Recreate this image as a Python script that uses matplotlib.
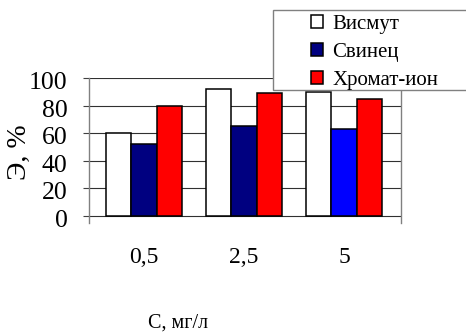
import matplotlib
matplotlib.use("Agg")
import matplotlib.pyplot as plt
from matplotlib.patches import Rectangle
from matplotlib.transforms import ScaledTranslation
import numpy as np

categories = ["0,5", "2,5", "5"]
series_names = ["Висмут", "Свинец", "Хромат-ион"]
bismuth = [60, 92, 90]
lead = [52, 65, 63]
chromate = [80, 89, 85]
yticks = [0, 20, 40, 60, 80, 100]

plt.rcParams['font.family'] = ['Liberation Serif', 'DejaVu Serif']

fig = plt.figure(figsize=(4.66, 3.32), dpi=100)
ax = fig.add_axes([89/466, 1-223/332, (401-89)/466, (223-78)/332])

x = np.arange(len(categories))
w = 0.255
lead_colors = ['#000080', '#000080', '#0000FF']
b1 = ax.bar(x - w, bismuth, w, color='white', edgecolor='black', linewidth=1.1, zorder=3, label=series_names[0])
b2 = ax.bar(x, lead, w, color=lead_colors, edgecolor='black', linewidth=1.1, zorder=3, label=series_names[1])
b3 = ax.bar(x + w, chromate, w, color='#FF0000', edgecolor='black', linewidth=1.1, zorder=3, label=series_names[2])

ax.set_xlim(-0.55, 2.57)
ax.set_ylim(-5, 100)
ax.set_yticks(yticks)
ax.set_yticklabels([str(v) for v in yticks], fontsize=18.5)
ax.set_xticks(x)
ax.set_xticklabels(categories, fontsize=17)
ax.tick_params(axis='x', length=0, pad=17)
ax.tick_params(axis='y', length=4.3, width=0.8, color='#404040', pad=11)
ax.grid(axis='y', color='#303030', linewidth=0.8, zorder=0)
for s in ['top', 'bottom']:
    ax.spines[s].set_visible(False)
for s in ['left', 'right']:
    ax.spines[s].set_color('#808080')
    ax.spines[s].set_linewidth(1.0)

shift = ScaledTranslation(0, -2.5/100, fig.dpi_scale_trans)
for lbl in ax.get_yticklabels():
    lbl.set_transform(lbl.get_transform() + shift)

fig.text(19/466, 1-152/332, "Э, %", rotation=90, fontsize=20, ha='center', va='center')
fig.text(178/466, 1-323/332, "С, мг/л", fontsize=14.5, ha='center', va='center')

rect = Rectangle((273/466, 1-90/332), 200/466, 80/332, transform=fig.transFigure,
                 facecolor='white', edgecolor='#808080', linewidth=1.0, zorder=5)
fig.patches.append(rect)

leg = fig.legend(handles=[b1, b2, b3], labels=series_names, loc='upper left',
                 bbox_to_anchor=(311/466, 1-15/332), frameon=False, fontsize=15,
                 handlelength=0.58, handleheight=0.58, handletextpad=0.45,
                 labelspacing=0.42, borderpad=0, borderaxespad=0)
leg.set_zorder(6)
for h in leg.legend_handles:
    h.set_edgecolor('black')
    h.set_linewidth(1.1)
leg.legend_handles[1].set_facecolor('#000080')

fig.savefig("out.png", dpi=100)
